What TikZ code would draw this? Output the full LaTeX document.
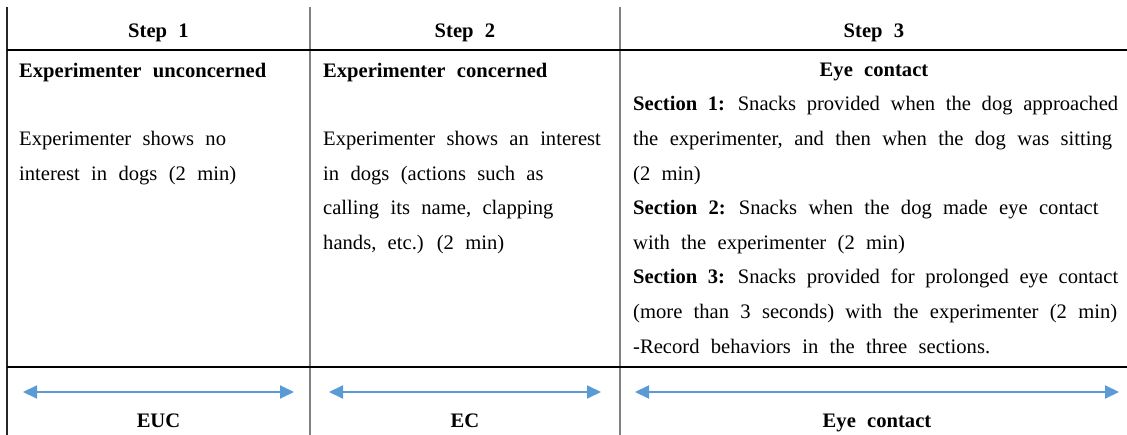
\documentclass[tikz,border=0pt]{standalone}
\usepackage{fontspec}
\setmainfont{Liberation Serif}[WordSpace={2.2}]
\usetikzlibrary{arrows.meta}
\definecolor{arrowblue}{HTML}{5B9BD5}
\definecolor{rulegray}{HTML}{808080}
\tikzset{
  txt/.style={anchor=base west,inner sep=0pt,font=\fontsize{20.6}{34.6}\selectfont},
  ctr/.style={anchor=base,inner sep=0pt,font=\fontsize{20.6}{34.6}\selectfont\bfseries},
  hrule/.style={line width=1.4pt,black},
  vrule/.style={line width=1.4pt,rulegray},
  lrule/.style={line width=1.4pt,black!85},
  barrow/.style={line width=2pt,arrowblue,{Triangle[length=14pt,width=13pt]}-{Triangle[length=14pt,width=13pt]}}
}
\begin{document}
\begin{tikzpicture}[x=1pt,y=-1pt]
\useasboundingbox (0,0) rectangle (1127,435);
% grid
\coordinate (v0t) at (7,7);   \coordinate (v0b) at (7,435);
\coordinate (v1t) at (310,7); \coordinate (v1b) at (310,435);
\coordinate (v2t) at (620,7); \coordinate (v2b) at (620,435);
\coordinate (h1l) at (7,50);  \coordinate (h1r) at (1127,50);
\coordinate (h2l) at (7,367); \coordinate (h2r) at (1127,367);
\draw[lrule] (v0t) -- (v0b);
\draw[vrule] (v1t) -- (v1b);
\draw[vrule] (v2t) -- (v2b);
\draw[hrule] (h1l) -- (h1r);
\draw[hrule] (h2l) -- (h2r);
% headers
\node[ctr] (s1) at (158.5,38) {Step 1};
\node[ctr] (s2) at (465,38) {Step 2};
\node[ctr] (s3) at (874,38) {Step 3};
% column 1
\node[txt] (c1t) at (19,78) {\textbf{Experimenter unconcerned}};
\node[txt] (c1a) at (19,145.6) {Experimenter shows no};
\node[txt] (c1b) at (19,180.2) {interest in dogs (2 min)};
% column 2
\node[txt] (c2t) at (323,78) {\textbf{Experimenter concerned}};
\node[txt] (c2a) at (323,145.6) {Experimenter shows an interest};
\node[txt] (c2b) at (323,180.2) {in dogs (actions such as};
\node[txt] (c2c) at (323,214.8) {calling its name, clapping};
\node[txt] (c2d) at (323,249.4) {hands, etc.) (2 min)};
% column 3
\node[ctr] (c3t) at (874,77) {Eye contact};
\node[txt] (c3a) at (633,111) {\makebox[485pt][s]{\textbf{Section 1:} Snacks provided when the dog approached}};
\node[txt] (c3b) at (633,145.6) {\makebox[479pt][s]{the experimenter, and then when the dog was sitting}};
\node[txt] (c3c) at (633,180.2) {(2 min)};
\node[txt] (c3d) at (633,214.8) {\textbf{Section 2:} Snacks when the dog made eye contact};
\node[txt] (c3e) at (633,249.4) {with the experimenter (2 min)};
\node[txt] (c3f) at (633,284) {\makebox[485pt][s]{\textbf{Section 3:} Snacks provided for prolonged eye contact}};
\node[txt] (c3g) at (633,318.6) {\makebox[484pt][s]{(more than 3 seconds) with the experimenter (2 min)}};
\node[txt] (c3h) at (633,353.2) {-Record behaviors in the three sections.};
% arrows
\coordinate (a1l) at (23,392);  \coordinate (a1r) at (294,392);
\coordinate (a2l) at (329,392); \coordinate (a2r) at (601,392);
\coordinate (a3l) at (635,392); \coordinate (a3r) at (1119,392);
\draw[barrow] (a1l) -- (a1r);
\draw[barrow] (a2l) -- (a2r);
\draw[barrow] (a3l) -- (a3r);
% bottom labels
\node[ctr] (l1) at (158.5,427) {EUC};
\node[ctr] (l2) at (465,427) {EC};
\node[ctr] (l3) at (877,427) {Eye contact};
\end{tikzpicture}
\end{document}
